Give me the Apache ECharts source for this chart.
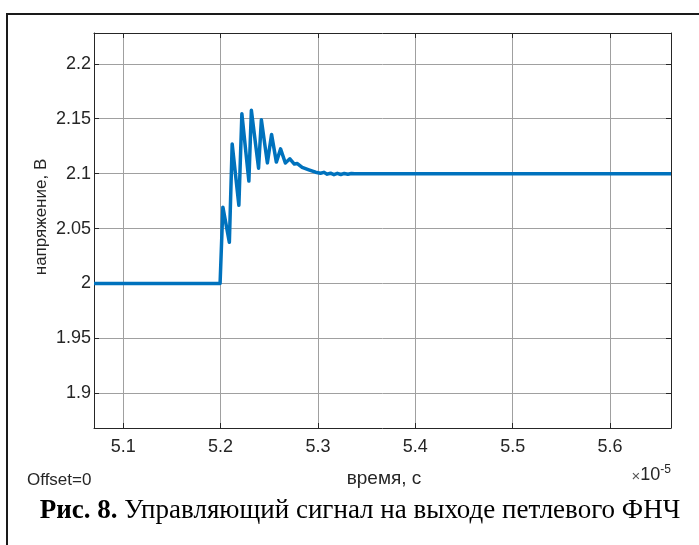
<!DOCTYPE html>
<html>
<head>
<meta charset="utf-8">
<script src="https://cdn.jsdelivr.net/npm/echarts@6/dist/echarts.min.js"></script>
<style>
html,body{margin:0;padding:0;background:#fff;}
#chart{width:699px;height:545px;}
</style>
</head>
<body>
<div id="chart"></div>
<script>
// time in units of 1e-5 s
const timeValues = [5.07, 5.1995, 5.2000, 5.20236, 5.20903, 5.21191, 5.21879, 5.22187, 5.22906, 5.23162,
  5.23901, 5.24189, 5.24805, 5.25236, 5.25729, 5.26160, 5.26653, 5.27115, 5.27577, 5.27885,
  5.28378, 5.29066, 5.29754, 5.30267, 5.30606, 5.30945, 5.31294, 5.31643, 5.31992, 5.32351,
  5.32710, 5.33070, 5.33429, 5.33789, 5.34199, 5.6626];
const voltageValues = [2.0, 2.0, 2.0, 2.0695, 2.0375, 2.127, 2.0712, 2.1545, 2.0932, 2.1577,
  2.105, 2.149, 2.1098, 2.1357, 2.1105, 2.1225, 2.1097, 2.1135, 2.1087, 2.1092,
  2.1058, 2.1035, 2.1013, 2.1004, 2.1012, 2.0995, 2.1004, 2.0991, 2.1003, 2.0992,
  2.1002, 2.0995, 2.1001, 2.0998, 2.1, 2.1];
const xTicks = [5.1, 5.2, 5.3, 5.4, 5.5, 5.6];
const xTickLabels = ['5.1', '5.2', '5.3', '5.4', '5.5', '5.6'];
const yTicks = [1.9, 1.95, 2.0, 2.05, 2.1, 2.15, 2.2];
const yTickLabels = ['1.9', '1.95', '2', '2.05', '2.1', '2.15', '2.2'];
const xRange = [5.07, 5.6626];
const yRange = [1.8685, 2.228];

function lab(ticks, labels) {
  return function (v) {
    for (let i = 0; i < ticks.length; i++) if (Math.abs(ticks[i] - v) < 1e-6) return labels[i];
    return '';
  };
}

const axisColor = '#262626';
const gridColor = '#a0a0a0';
const font = 'Liberation Sans, Arial, sans-serif';

const chart = echarts.init(document.getElementById('chart'), null, {renderer: 'canvas'});
chart.setOption({
  animation: false,
  backgroundColor: '#fff',
  grid: {left: 94, top: 33, right: 28, bottom: 117, containLabel: false},
  xAxis: [{
    type: 'value', position: 'bottom', min: xRange[0], max: xRange[1],
    axisLine: {show: true, onZero: false, lineStyle: {color: axisColor, width: 1}},
    axisTick: {show: true, inside: true, length: 5, customValues: xTicks, lineStyle: {color: axisColor}},
    axisLabel: {customValues: xTicks, formatter: lab(xTicks, xTickLabels), color: '#262626',
      fontFamily: font, fontSize: 18, margin: 10},
    splitLine: {show: true, lineStyle: {color: gridColor, width: 1}}
  }, {
    type: 'value', position: 'top', min: xRange[0], max: xRange[1],
    axisLine: {show: true, onZero: false, lineStyle: {color: axisColor, width: 1}},
    axisTick: {show: true, inside: true, length: 5, customValues: xTicks, lineStyle: {color: axisColor}},
    axisLabel: {show: false},
    splitLine: {show: false}
  }],
  yAxis: [{
    type: 'value', position: 'left', min: yRange[0], max: yRange[1],
    axisLine: {show: true, onZero: false, lineStyle: {color: axisColor, width: 1}},
    axisTick: {show: true, inside: true, length: 5, customValues: yTicks, lineStyle: {color: axisColor}},
    axisLabel: {customValues: yTicks, formatter: lab(yTicks, yTickLabels), color: '#262626',
      fontFamily: font, fontSize: 18, margin: 3},
    splitLine: {show: true, lineStyle: {color: gridColor, width: 1}}
  }, {
    type: 'value', position: 'right', min: yRange[0], max: yRange[1],
    axisLine: {show: true, onZero: false, lineStyle: {color: axisColor, width: 1}},
    axisTick: {show: true, inside: true, length: 5, customValues: yTicks, lineStyle: {color: axisColor}},
    axisLabel: {show: false},
    splitLine: {show: false}
  }],
  series: [{
    type: 'line',
    xAxisIndex: 0, yAxisIndex: 0,
    data: timeValues.map((t, i) => [t, voltageValues[i]]),
    showSymbol: false,
    lineStyle: {color: '#0072BD', width: 3.5, join: 'round'},
    itemStyle: {color: '#0072BD'},
    clip: true
  }],
  graphic: [
    {type: 'line', shape: {x1: 6, y1: 14, x2: 699, y2: 14}, style: {stroke: '#1a1a1a', lineWidth: 2}},
    {type: 'line', shape: {x1: 7, y1: 13, x2: 7, y2: 545}, style: {stroke: '#1a1a1a', lineWidth: 2}},
    {type: 'text', x: 41, y: 217, rotation: Math.PI / 2,
      style: {text: 'напряжение, В', fontFamily: font, fontSize: 17, fill: '#262626', align: 'center', verticalAlign: 'middle'}},
    {type: 'text', x: 384, y: 479,
      style: {text: 'время, с', fontFamily: font, fontSize: 19, fill: '#262626', align: 'center', verticalAlign: 'middle'}},
    {type: 'text', x: 27, y: 480,
      style: {text: 'Offset=0', fontFamily: font, fontSize: 17, fill: '#262626', align: 'left', verticalAlign: 'middle'}},
    {type: 'text', x: 671, y: 474,
      style: {text: '{a|×}{b|10}{c|-5}', align: 'right', verticalAlign: 'middle', fill: '#262626',
        rich: {
          a: {fontFamily: font, fontSize: 15, fill: '#555', verticalAlign: 'bottom'},
          b: {fontFamily: font, fontSize: 18, fill: '#262626', verticalAlign: 'bottom'},
          c: {fontFamily: font, fontSize: 12, fill: '#262626', verticalAlign: 'top', padding: [0, 0, 8, 0]}
        }}},
    {type: 'text', x: 360, y: 511,
      style: {text: '{b|Рис. 8.} Управляющий сигнал на выходе петлевого ФНЧ', align: 'center', verticalAlign: 'middle',
        fontFamily: 'Liberation Serif, Times New Roman, serif', fontSize: 27, fill: '#000',
        rich: {
          b: {fontFamily: 'Liberation Serif, Times New Roman, serif', fontSize: 27, fontWeight: 'bold', fill: '#000'}
        }}}
  ]
});
</script>
</body>
</html>
